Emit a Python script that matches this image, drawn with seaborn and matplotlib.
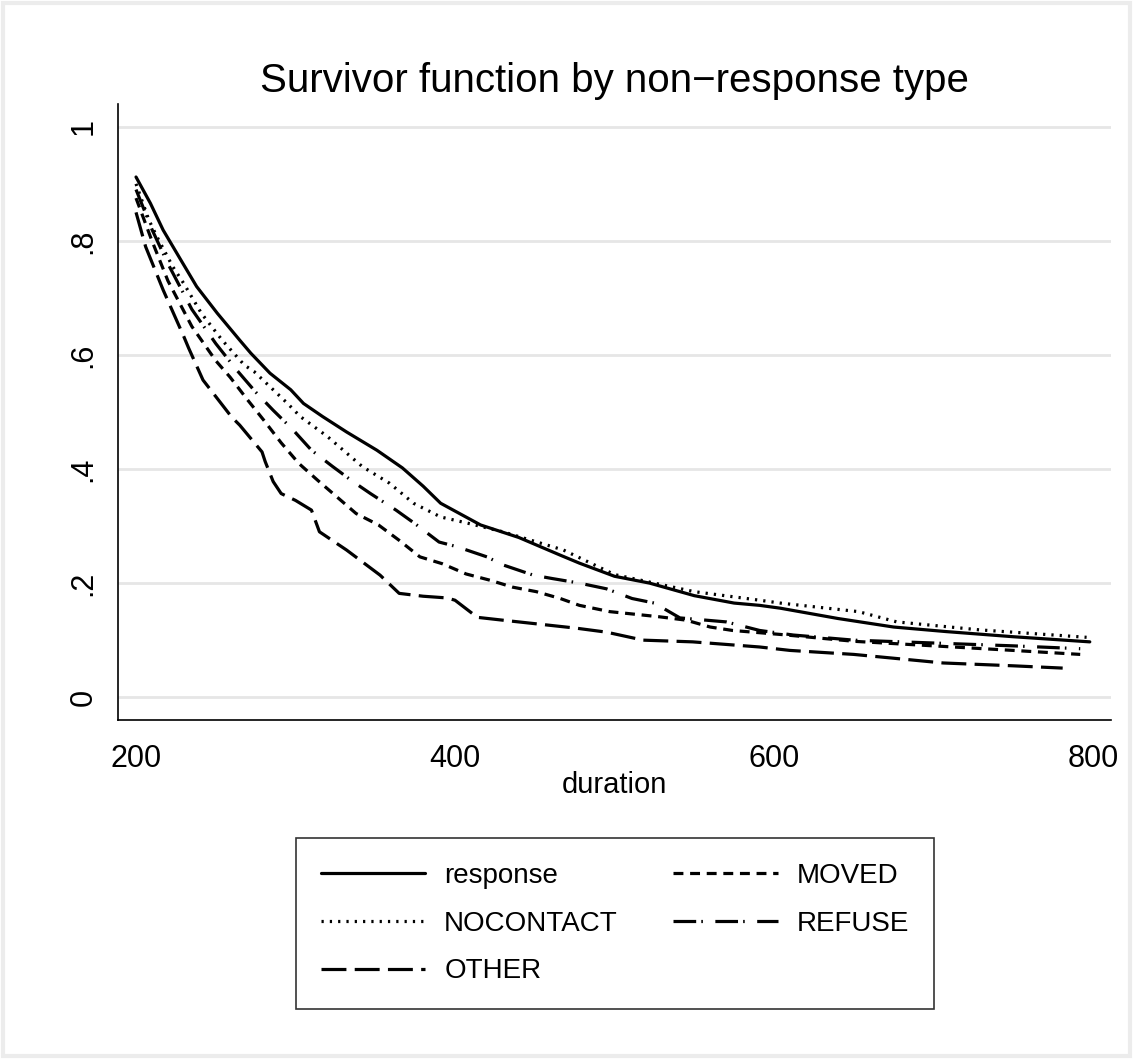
import pandas as pd
import matplotlib
matplotlib.use("Agg")
import matplotlib.pyplot as plt
from matplotlib.patches import Rectangle
import seaborn as sns

# ===================== data =====================
groups = ["response", "NOCONTACT", "OTHER", "MOVED", "REFUSE"]

response_x = [200, 209, 217, 228, 238, 251, 265, 272, 284, 297, 305, 317, 332, 351, 367, 380,
              391, 416, 440, 466, 478, 500, 522, 550, 575, 591, 604, 640, 675, 708, 750, 798]
response_y = [0.912, 0.866, 0.819, 0.767, 0.72, 0.673, 0.626, 0.603, 0.568, 0.539, 0.515, 0.492,
              0.465, 0.433, 0.402, 0.37, 0.34, 0.302, 0.28, 0.249, 0.235, 0.212, 0.2, 0.178,
              0.165, 0.161, 0.156, 0.138, 0.123, 0.115, 0.106, 0.097]

nocontact_x = [200, 208, 213, 223, 230, 241, 254, 268, 274, 286, 295, 303, 320, 342, 359, 374,
               391, 408, 430, 468, 500, 550, 591, 604, 653, 677, 729, 796]
nocontact_y = [0.90, 0.837, 0.808, 0.755, 0.725, 0.673, 0.626, 0.582, 0.571, 0.539, 0.515, 0.492,
               0.457, 0.404, 0.375, 0.34, 0.316, 0.305, 0.29, 0.258, 0.215, 0.185, 0.17, 0.165,
               0.15, 0.132, 0.118, 0.105]

moved_x = [200, 210, 220, 235, 250, 259, 270, 280, 291, 302, 314, 326, 338, 352, 365, 378, 392,
           407, 422, 436, 451, 466, 478, 497, 528, 545, 560, 574, 604, 650, 700, 750, 792]
moved_y = [0.875, 0.80, 0.73, 0.65, 0.59, 0.561, 0.521, 0.486, 0.446, 0.41, 0.38, 0.351, 0.322,
           0.302, 0.275, 0.246, 0.234, 0.216, 0.205, 0.193, 0.185, 0.173, 0.161, 0.15, 0.141,
           0.135, 0.123, 0.117, 0.11, 0.098, 0.09, 0.082, 0.075]

refuse_x = [200, 210, 220, 235, 250, 263, 275, 286, 298, 310, 323, 336, 347, 363, 375, 390, 401,
            420, 430, 449, 461, 478, 495, 511, 525, 541, 570, 591, 612, 650, 700, 750, 792]
refuse_y = [0.89, 0.82, 0.76, 0.68, 0.62, 0.574, 0.535, 0.503, 0.47, 0.433, 0.405, 0.378, 0.357,
            0.328, 0.304, 0.272, 0.264, 0.246, 0.232, 0.214, 0.208, 0.2, 0.19, 0.173, 0.165,
            0.139, 0.132, 0.117, 0.109, 0.10, 0.095, 0.09, 0.085]

other_x = [200, 206, 217, 230, 233, 242, 260, 265, 279, 281, 286, 291, 300, 310, 315, 332, 353,
           365, 380, 395, 400, 414, 430, 476, 495, 518, 549, 591, 610, 650, 706, 750, 781]
other_y = [0.85, 0.79, 0.714, 0.632, 0.612, 0.556, 0.491, 0.477, 0.43, 0.413, 0.378, 0.357, 0.345,
           0.328, 0.29, 0.258, 0.214, 0.182, 0.177, 0.174, 0.17, 0.14, 0.135, 0.121, 0.114, 0.10,
           0.097, 0.088, 0.082, 0.075, 0.06, 0.055, 0.051]

x_ticks = [200, 400, 600, 800]
y_ticks = [0, 0.2, 0.4, 0.6, 0.8, 1.0]
y_tick_labels = ["0", ".2", ".4", ".6", ".8", "1"]

# ===================== long-form table =====================
series = {
    "response": (response_x, response_y),
    "NOCONTACT": (nocontact_x, nocontact_y),
    "OTHER": (other_x, other_y),
    "MOVED": (moved_x, moved_y),
    "REFUSE": (refuse_x, refuse_y),
}
frames = []
for name, (xs, ys) in series.items():
    frames.append(pd.DataFrame({"duration": xs, "surv": ys, "group": name}))
df = pd.concat(frames, ignore_index=True)

# ===================== plot =====================
sns.set_style("white")
plt.rcParams["font.family"] = ["Liberation Sans Narrow", "Liberation Sans", "DejaVu Sans"]
plt.rcParams["text.color"] = "black"
plt.rcParams["xtick.color"] = "black"
plt.rcParams["ytick.color"] = "black"
plt.rcParams["axes.labelcolor"] = "black"

fig = plt.figure(figsize=(11.33, 10.59), dpi=100)
ax = fig.add_axes([118 / 1133, 1 - 720 / 1059, (1111 - 118) / 1133, (720 - 104) / 1059])

lw = 2.3
dashes = {
    "response": "",
    "NOCONTACT": (0.7, 1.9),
    "OTHER": (7.8, 2.6),
    "MOVED": (3.1, 2.1),
    "REFUSE": (7.1, 1.6, 0.5, 3.9),
}
palette = {g: "black" for g in groups}

sns.lineplot(data=df, x="duration", y="surv", hue="group", style="group",
             hue_order=groups, style_order=groups, palette=palette, dashes=dashes,
             estimator=None, sort=True, linewidth=lw, ax=ax, legend=True)

handles, labels = ax.get_legend_handles_labels()
ax.get_legend().remove()
for h in handles:
    h.set_linewidth(lw)

ax.set_xlim(188.7, 811.3)
ax.set_ylim(-0.040, 1.040)
ax.set_xticks(x_ticks)
ax.set_xticklabels([str(t) for t in x_ticks])
ax.set_yticks(y_ticks)
ax.set_yticklabels(y_tick_labels, rotation=90, va="center")

ax.yaxis.grid(True, color="#e6e6e6", linewidth=2.0)
ax.xaxis.grid(False)
ax.set_axisbelow(True)

for side in ["top", "right"]:
    ax.spines[side].set_visible(False)
for side in ["left", "bottom"]:
    ax.spines[side].set_color("black")
    ax.spines[side].set_linewidth(1.2)

ax.tick_params(axis="both", which="major", direction="out", length=11, width=1.0,
               color="black", labelsize=22, pad=3)
ax.tick_params(axis="x", length=14, pad=3)

ax.set_xlabel("duration", fontsize=21, labelpad=-2)
ax.set_ylabel("")
ax.set_title("Survivor function by non−response type", fontsize=29, pad=9)

leg = fig.legend(handles, labels, loc="upper center", ncol=2,
                 bbox_to_anchor=(615 / 1133, 1 - 824 / 1059),
                 fontsize=20, frameon=True, fancybox=False, edgecolor="black",
                 handlelength=3.75, handletextpad=0.7, columnspacing=2.0,
                 labelspacing=0.78, borderpad=0.9)
leg.get_frame().set_linewidth(1.2)

# light outer border like the graph region
fig.patches.append(Rectangle((0.003, 0.003), 0.994, 0.994, transform=fig.transFigure,
                             fill=False, edgecolor="#ececec", linewidth=3))

fig.savefig("out.png", dpi=100)
plt.close(fig)
